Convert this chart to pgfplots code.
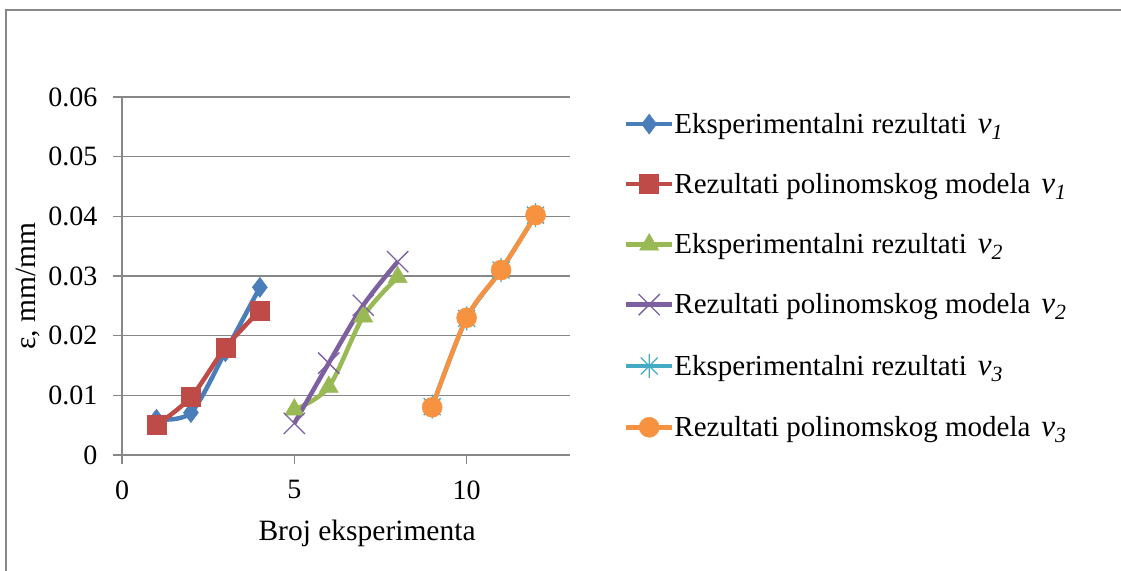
\documentclass[border=0pt]{standalone}
\usepackage{pgfplots}
\pgfplotsset{compat=1.18}
\usepackage{fontspec}
\setmainfont{Liberation Serif}

\definecolor{cblue}{HTML}{4A7EBB}
\definecolor{cred}{HTML}{BE4B48}
\definecolor{cgreen}{HTML}{98B954}
\definecolor{cpurple}{HTML}{7D60A0}
\definecolor{ccyan}{HTML}{46AAC5}
\definecolor{corange}{HTML}{F69240}
\definecolor{axisgray}{HTML}{878787}

\newcommand{\fT}{\fontsize{28bp}{33bp}\selectfont}
\newcommand{\fA}{\fontsize{29.5bp}{35bp}\selectfont}
\newcommand{\fL}{\fontsize{29bp}{36bp}\selectfont}
\newcommand{\vv}[1]{\hspace{11bp}{\fontsize{31bp}{36bp}\selectfont\textit{v\textsubscript{#1}}}}

% Excel "star" marker: x plus a vertical stroke
\pgfdeclareplotmark{starx}{%
  \pgfpathmoveto{\pgfqpoint{-.7071\pgfplotmarksize}{-.7071\pgfplotmarksize}}%
  \pgfpathlineto{\pgfqpoint{.7071\pgfplotmarksize}{.7071\pgfplotmarksize}}%
  \pgfpathmoveto{\pgfqpoint{-.7071\pgfplotmarksize}{.7071\pgfplotmarksize}}%
  \pgfpathlineto{\pgfqpoint{.7071\pgfplotmarksize}{-.7071\pgfplotmarksize}}%
  \pgfpathmoveto{\pgfqpoint{0pt}{-\pgfplotmarksize}}%
  \pgfpathlineto{\pgfqpoint{0pt}{\pgfplotmarksize}}%
  \pgfusepathqstroke}

\begin{document}
\begin{tikzpicture}
\path[use as bounding box] (0,0) rectangle (1121bp,-571bp);
% outer chart frame (only left and top edges visible)
\draw[axisgray, line width=2.5bp] (6bp,-571bp) -- (6bp,-10bp) -- (1121bp,-10bp);

\begin{axis}[
    at={(122bp,-455bp)}, anchor=origin,
    scale only axis, width=448bp, height=358bp,
    xmin=0, xmax=13, ymin=0, ymax=0.06,
    scaled y ticks=false, scaled x ticks=false,
    axis lines*=left,
    axis line style={draw=axisgray, line width=1.8bp},
    ymajorgrids, grid style={draw=axisgray, line width=1.6bp},
    tick align=outside, major tick length=9bp,
    tick style={draw=axisgray, line width=1.6bp},
    xtick={0,5,10}, xticklabels={0,5,10},
    ytick={0,0.01,0.02,0.03,0.04,0.05,0.06},
    yticklabels={0,0.01,0.02,0.03,0.04,0.05,0.06},
    tick label style={font=\fT},
    yticklabel style={xshift=-12bp},
    xticklabel style={yshift=-13bp},
    clip=false,
    legend style={at={(1.12,0.955)}, anchor=north west, draw=none, fill=none,
        font=\fL, inner sep=0pt, row sep=38.5bp,
        nodes={inner sep=0pt}, column sep=0bp},
    legend cell align=left,
    legend image code/.code={\draw[mark repeat=2,mark phase=2]
        plot coordinates {(0bp,0bp) (23bp,0bp) (46bp,0bp)};},
    every axis plot/.append style={line width=4.5bp, smooth, tension=0.5},
]
\addplot[cblue, mark=diamond*, mark size=10bp, mark options={solid, line width=0.5bp}]
  coordinates {(1,0.0060) (2,0.0071) (3,0.0173) (4,0.0281)};
\addlegendentry{Eksperimentalni rezultati\vv{1}}
\addplot[cred, mark=square*, mark size=9.5bp, mark options={solid, line width=0.5bp}]
  coordinates {(1,0.0050) (2,0.0097) (3,0.0180) (4,0.0242)};
\addlegendentry{Rezultati polinomskog modela\vv{1}}
\addplot[cgreen, mark=triangle*, mark size=11bp, mark options={solid, line width=0.5bp}]
  coordinates {(5,0.0076) (6,0.0114) (7,0.0232) (8,0.0298)};
\addlegendentry{Eksperimentalni rezultati\vv{2}}
\addplot[cpurple, mark=x, mark size=15bp, mark options={solid, line width=1.3bp}]
  coordinates {(5,0.0053) (6,0.0154) (7,0.0251) (8,0.0324)};
\addlegendentry{Rezultati polinomskog modela\vv{2}}
\addplot[ccyan, mark=starx, mark size=12bp, mark options={solid, line width=1.3bp}]
  coordinates {(9,0.0081) (10,0.0229) (11,0.0310) (12,0.0402)};
\addlegendentry{Eksperimentalni rezultati\vv{3}}
\addplot[corange, mark=*, mark size=10bp, mark options={solid, line width=0.5bp}]
  coordinates {(9,0.0080) (10,0.0230) (11,0.0310) (12,0.0402)};
\addlegendentry{Rezultati polinomskog modela\vv{3}}

\node[font=\fA, rotate=90] at (axis description cs:-0.21,0.472) {ε, mm/mm};
\node[font=\fA] at (axis description cs:0.547,-0.22) {Broj eksperimenta};
\end{axis}
\end{tikzpicture}
\end{document}
